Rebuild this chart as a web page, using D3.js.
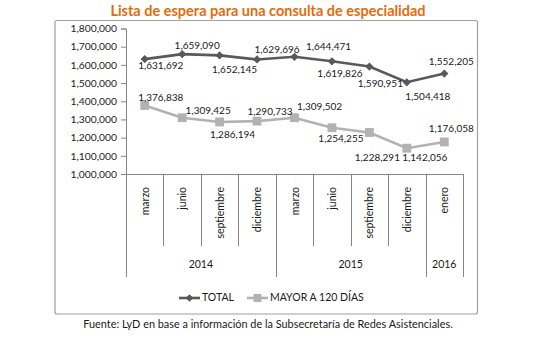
<!DOCTYPE html>
<html>
<head>
<meta charset="utf-8">
<script src="https://cdn.jsdelivr.net/npm/d3@7"></script>
<style>
  body { margin: 0; background: #fff; }
  svg { display: block; font-family: Lato, "Open Sans", sans-serif; }
</style>
</head>
<body>
<div id="chart"></div>
<script>
// Periods on the category axis
const months = ["marzo", "junio", "septiembre", "diciembre", "marzo", "junio", "septiembre", "diciembre", "enero"];
const years = ["2014", "2014", "2014", "2014", "2015", "2015", "2015", "2015", "2016"];

// Waiting list series
const total = [1631692, 1659090, 1652145, 1629696, 1644471, 1619826, 1590951, 1504418, 1552205];
const mayor120 = [1376838, 1309425, 1286194, 1290733, 1309502, 1254255, 1228291, 1142056, 1176058];

const yTicks = [1000000, 1100000, 1200000, 1300000, 1400000, 1500000, 1600000, 1700000, 1800000];

// hand-placed label offsets (dx, dy) from each marker
const totalLabelOff = [[16, 7], [15, -8], [15, 15], [20, -9], [34, -9], [8, 13], [11, 18], [21, 15], [7, -11]];
const mayorLabelOff = [[16, -7], [26, -6], [13, 14], [13, -9], [25, -10], [9, 12], [8, 26], [18, 10], [7, -13]];

const W = 541, H = 339;
const plot = { left: 126, right: 463, top: 28.5, bottom: 174 };

const svg = d3.select("#chart").append("svg")
    .attr("width", W)
    .attr("height", H);

// title
svg.append("text")
    .attr("x", 268).attr("y", 12)
    .attr("text-anchor", "middle")
    .attr("dominant-baseline", "middle")
    .attr("font-size", 14.5)
    .attr("font-weight", "bold")
    .attr("fill", "#E46C0A")
    .text("Lista de espera para una consulta de especialidad");

// outer chart border
svg.append("rect")
    .attr("x", 55).attr("y", 20.5)
    .attr("width", 422.5).attr("height", 293.5)
    .attr("rx", 2)
    .attr("fill", "none")
    .attr("stroke", "#a0a0a0")
    .attr("stroke-width", 1.2);

const x = d3.scaleBand()
    .domain(d3.range(months.length))
    .range([plot.left, plot.right]);

const y = d3.scaleLinear()
    .domain([1000000, 1800000])
    .range([plot.bottom, plot.top]);

const cx = i => x(i) + x.bandwidth() / 2;

// y axis
const yAxis = svg.append("g")
    .attr("transform", `translate(${plot.left},0)`)
    .call(d3.axisLeft(y).tickValues(yTicks).tickSize(5).tickPadding(4)
        .tickFormat(d3.format(",")));
yAxis.select(".domain").attr("stroke", "#868686");
yAxis.selectAll(".tick line").attr("stroke", "#868686");
yAxis.selectAll(".tick text")
    .attr("font-size", 10.3)
    .attr("font-family", "Lato, sans-serif")
    .attr("fill", "#1a1a1a");

// category axis: baseline, month dividers and year dividers
const axisColor = "#868686";
svg.append("line")
    .attr("x1", plot.left).attr("x2", plot.right)
    .attr("y1", plot.bottom + 0.5).attr("y2", plot.bottom + 0.5)
    .attr("stroke", axisColor);

const monthEdges = d3.range(months.length + 1);
svg.append("g").selectAll("line")
    .data(monthEdges)
    .join("line")
    .attr("x1", i => Math.round(i < months.length ? x(i) : plot.right) + 0.5)
    .attr("x2", i => Math.round(i < months.length ? x(i) : plot.right) + 0.5)
    .attr("y1", plot.bottom)
    .attr("y2", i => (i === 0 || i === months.length || years[i] !== years[i - 1]) ? 277 : 246)
    .attr("stroke", axisColor);

svg.append("g").selectAll("text")
    .data(months)
    .join("text")
    .attr("transform", (d, i) => `translate(${cx(i) + 4},187) rotate(-90)`)
    .attr("text-anchor", "end")
    .attr("font-size", 10.5)
    .attr("fill", "#1a1a1a")
    .text(d => d);

const yearGroups = d3.groups(years.map((yr, i) => ({ yr, i })), d => d.yr);
svg.append("g").selectAll("text")
    .data(yearGroups)
    .join("text")
    .attr("x", ([, g]) => (x(g[0].i) + x(g[g.length - 1].i) + x.bandwidth()) / 2)
    .attr("y", 265)
    .attr("dominant-baseline", "middle")
    .attr("text-anchor", "middle")
    .attr("font-size", 10.5)
    .attr("fill", "#1a1a1a")
    .text(([yr]) => yr);

// series
const darkGrey = "#595959", lightGrey = "#b2b2b2";
const line = d3.line().x((d, i) => cx(i)).y(d => y(d));

function drawSeries(values, color, symbol, size, offsets) {
    const g = svg.append("g");
    g.append("path")
        .datum(values)
        .attr("d", line)
        .attr("fill", "none")
        .attr("stroke", color)
        .attr("stroke-width", 2.6);
    g.selectAll("path.mk")
        .data(values)
        .join("path")
        .attr("class", "mk")
        .attr("transform", (d, i) => `translate(${cx(i)},${y(d)})${symbol === d3.symbolDiamond ? " rotate(45)" : ""}`)
        .attr("d", d3.symbol(symbol === d3.symbolDiamond ? d3.symbolSquare : symbol, size))
        .attr("fill", color);
    g.selectAll("text")
        .data(values)
        .join("text")
        .attr("x", (d, i) => cx(i) + offsets[i][0])
        .attr("y", (d, i) => y(d) + offsets[i][1])
        .attr("text-anchor", "middle")
        .attr("dominant-baseline", "middle")
        .attr("font-size", 10)
        .attr("fill", "#1a1a1a")
        .text(d => d3.format(",")(d));
}

drawSeries(mayor120, lightGrey, d3.symbolSquare, 78, mayorLabelOff);
drawSeries(total, darkGrey, d3.symbolDiamond, 34, totalLabelOff);

// legend
const legend = svg.append("g").attr("transform", "translate(0,298)");
const legendItems = [
    { label: "TOTAL", color: darkGrey, x0: 179, diamond: true },
    { label: "MAYOR A 120 DÍAS", color: lightGrey, x0: 247, diamond: false }
];
legendItems.forEach(it => {
    legend.append("line")
        .attr("x1", it.x0).attr("x2", it.x0 + 21)
        .attr("stroke", it.color).attr("stroke-width", 2.6);
    legend.append("path")
        .attr("transform", `translate(${it.x0 + 10.5},0)${it.diamond ? " rotate(45)" : ""}`)
        .attr("d", d3.symbol(d3.symbolSquare, it.diamond ? 30 : 64))
        .attr("fill", it.color);
    legend.append("text")
        .attr("x", it.x0 + 23)
        .attr("dominant-baseline", "middle")
        .attr("font-size", 10.5)
        .attr("fill", "#1a1a1a")
        .text(it.label);
});

// source note
svg.append("text")
    .attr("x", 268).attr("y", 325)
    .attr("text-anchor", "middle")
    .attr("dominant-baseline", "middle")
    .attr("font-size", 10.9)
    .attr("fill", "#1a1a1a")
    .text("Fuente: LyD en base a información de la Subsecretaría de Redes Asistenciales.");
</script>
</body>
</html>
